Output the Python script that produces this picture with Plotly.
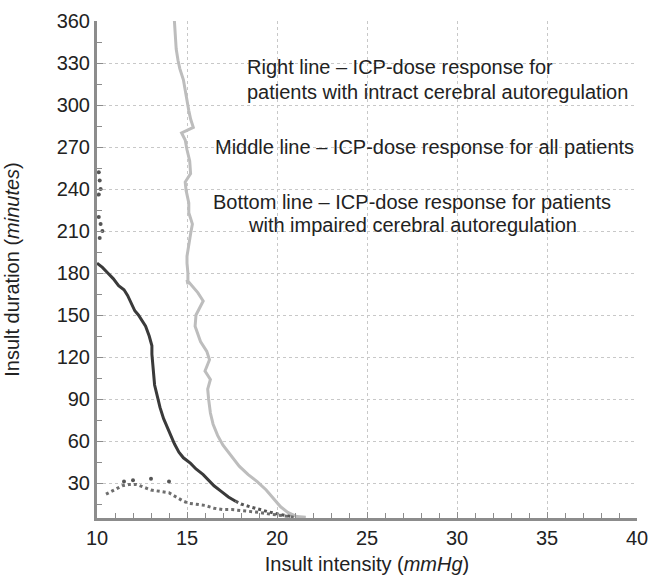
import plotly.graph_objects as go

# Dark solid line: impaired autoregulation (x = mmHg, y = minutes)
impaired_x = [10.0, 10.3, 10.6, 10.9, 11.2, 11.5, 11.7, 11.9, 12.1, 12.3, 12.5, 12.7, 12.9, 13.05, 13.05,
              13.1, 13.15, 13.2, 13.35, 13.5, 13.7, 13.9, 14.05, 14.3, 14.55, 14.8, 15.2, 15.5, 15.9, 16.2,
              16.5, 16.9, 17.3, 17.7]
impaired_y = [187, 184, 180, 176, 171, 168, 164, 158, 153, 150, 146, 142, 135, 128, 122,
              115, 108, 100, 92, 84, 76, 70, 65, 58, 52, 48, 44, 40, 36, 32,
              28, 24, 20, 17]
impaired_tail_x = [17.7, 18.0, 18.5, 19.0, 19.5, 20.0, 20.4, 20.8]
impaired_tail_y = [17, 15, 13, 11, 9.5, 8, 7, 6]

# Light line: intact autoregulation
intact_x = [14.3, 14.35, 14.4, 14.5, 14.6, 14.8, 14.9, 15.0, 15.1, 15.2, 15.35, 14.7, 14.9, 15.0, 15.15,
            15.2, 14.9, 14.95, 15.1, 15.1, 15.3, 15.2, 15.1, 15.0, 15.0, 15.05, 15.05, 15.0, 15.6, 15.9,
            15.5, 15.45, 15.75, 16.1, 16.25, 16.0, 16.3, 16.15, 16.2, 16.3, 16.45, 16.7, 17.0, 17.4,
            17.9, 18.4, 18.9, 19.4, 19.8, 20.2, 20.6, 21.1, 21.6]
intact_y = [360, 350, 340, 332, 326, 318, 310, 304, 296, 290, 284, 280, 275, 268, 260,
            251, 245, 239, 230, 223, 215, 208, 200, 192, 187, 180, 172, 175, 166, 160,
            150, 142, 131, 124, 118, 110, 104, 97, 90, 80, 72, 64, 57, 50,
            42, 36, 31, 25, 19, 13, 9, 6, 5.5]

# Dotted lower curve
lower_x = [10.5, 10.8, 11.1, 11.4, 11.8, 12.2, 12.6, 13.0, 13.5, 14.0, 14.4, 14.8, 15.1, 15.6, 16.0,
           16.5, 17.0, 17.5, 18.0, 18.5, 19.0, 19.5, 20.0, 20.5, 21.0]
lower_y = [22, 24, 26, 28, 29, 29, 27, 25, 24, 23, 20, 17, 15.5, 14.5, 14,
           12, 11, 11, 10.5, 10, 9, 8, 7, 6, 5.5]

# Scattered dark points
scatter_x = [11.5, 12.0, 13.0, 14.0, 10.1, 10.15, 10.2, 10.1, 10.1, 10.2, 10.3, 10.15]
scatter_y = [31, 32, 33, 31, 252, 246, 240, 236, 220, 215, 210, 205]

x_ticks = [10, 15, 20, 25, 30, 35, 40]
y_ticks = [30, 60, 90, 120, 150, 180, 210, 240, 270, 300, 330, 360]

notes = [
    ("Right line – ICP-dose response for", 18.2, 327, "left"),
    ("patients with intract cerebral autoregulation", 18.2, 309, "left"),
    ("Middle line – ICP-dose response for all patients", 28.2, 270, "center"),
    ("Bottom line – ICP-dose response for patients", 27.5, 231, "center"),
    ("with impaired cerebral autoregulation", 27.5, 214, "center"),
]

FONT = "Liberation Sans, Arial, Helvetica, sans-serif"

fig = go.Figure()
fig.add_trace(go.Scatter(x=intact_x, y=intact_y, mode="lines",
                         line=dict(color="#bdbdbd", width=3), hoverinfo="skip"))
fig.add_trace(go.Scatter(x=lower_x, y=lower_y, mode="lines",
                         line=dict(color="#6e6e6e", width=3, dash="dot"), hoverinfo="skip"))
fig.add_trace(go.Scatter(x=impaired_x, y=impaired_y, mode="lines",
                         line=dict(color="#3a3a3a", width=3), hoverinfo="skip"))
fig.add_trace(go.Scatter(x=impaired_tail_x, y=impaired_tail_y, mode="lines",
                         line=dict(color="#555555", width=3, dash="dot"), hoverinfo="skip"))
fig.add_trace(go.Scatter(x=scatter_x, y=scatter_y, mode="markers",
                         marker=dict(color="#555555", size=4), hoverinfo="skip"))

for text, x, y, align in notes:
    fig.add_annotation(x=x, y=y, text=text, showarrow=False, xanchor=align, yanchor="middle",
                       font=dict(family=FONT, size=20, color="#222222"))

fig.update_layout(
    width=648, height=575,
    margin=dict(l=97, r=11, t=21, b=57, autoexpand=False),
    paper_bgcolor="white", plot_bgcolor="white",
    showlegend=False,
    font=dict(family=FONT, size=20, color="#222222"),
)
fig.update_xaxes(
    range=[10, 40], tickvals=x_ticks, ticktext=[str(v) for v in x_ticks],
    showgrid=True, gridcolor="#c8c8c8", griddash="dot", gridwidth=1,
    showline=True, linecolor="#8c8c8c", linewidth=3,
    ticks="inside", ticklen=6, tickcolor="#8c8c8c",
    minor=dict(dtick=1, ticks="inside", ticklen=5, tickcolor="#8c8c8c", showgrid=False),
    zeroline=False, ticklabeloverflow="allow", ticklabelstandoff=0, automargin=False,
    title=dict(text="Insult intensity (<i>mmHg</i>)", font=dict(size=20), standoff=20),
    tickfont=dict(size=20),
)
fig.update_yaxes(
    range=[5, 360], tickvals=y_ticks, ticktext=[str(v) for v in y_ticks],
    showgrid=True, gridcolor="#c8c8c8", griddash="dot", gridwidth=1,
    showline=True, linecolor="#8c8c8c", linewidth=3,
    ticks="inside", ticklen=6, tickcolor="#8c8c8c",
    minor=dict(tick0=15, dtick=30, ticks="inside", ticklen=5, tickcolor="#8c8c8c", showgrid=False),
    zeroline=False, automargin=False,
    title=dict(text="Insult duration (<i>minutes</i>)", font=dict(size=20), standoff=32),
    tickfont=dict(size=20),
)

fig.write_html("out.html")
